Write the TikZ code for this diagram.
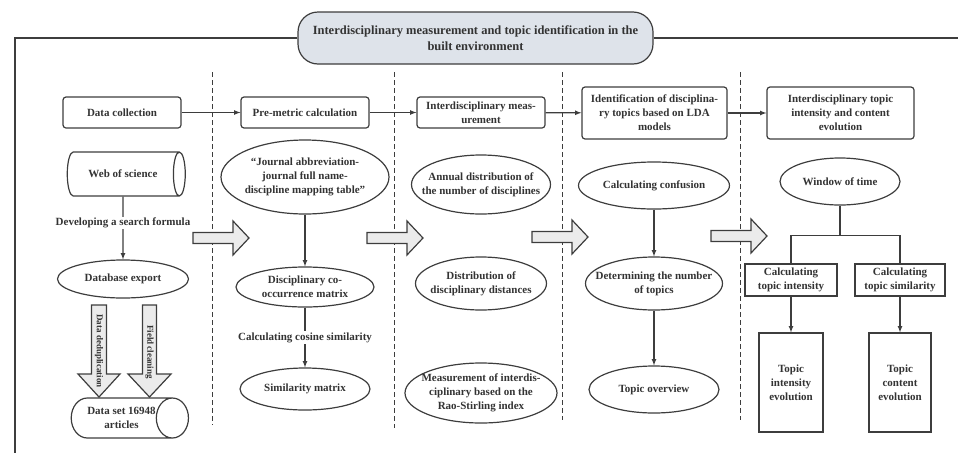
\documentclass[tikz,border=0pt]{standalone}
\usepackage{fontspec}
\setmainfont{Liberation Serif}
\usepackage{xcolor}
\usepackage{tikz}
\usetikzlibrary{shapes.geometric,arrows,positioning}
\definecolor{linegray}{HTML}{3D3D3D}
\definecolor{textgray}{HTML}{333333}
\definecolor{titlefill}{HTML}{DEE3EA}
\definecolor{arrowfill}{HTML}{EBEBEB}

\begin{document}
\begin{tikzpicture}[x=1pt,y=-1pt,line width=1.2pt,color=linegray,text=textgray,
	font=\bfseries\fontsize{11}{14}\selectfont,
	stage/.style={draw,rounded corners=3pt,align=center,inner sep=0pt},
	oval/.style={ellipse,draw,align=center,inner xsep=-12pt,inner ysep=0pt},
	drum/.style={cylinder,draw,align=center,inner sep=0pt,shape aspect=1.5},
	plainbox/.style={draw,align=center,inner sep=0pt},
	flow/.style={-latex},
	sep/.style={line width=1pt,dash pattern=on 5pt off 3pt},
	bigarrow/.style={draw,fill=arrowfill,line join=miter},
	fatarrow/.pic={\draw[bigarrow] (0,-5.5) -- (40,-5.5) -- (40,-17) -- (56,0) -- (40,17) -- (40,5.5) -- (0,5.5) -- cycle;}]
	\useasboundingbox (0,0) rectangle (958,453);
	% title and frame
	\node[draw,fill=titlefill,rounded corners=20pt,minimum width=355,minimum height=52,align=center,font=\bfseries\fontsize{12.5}{16}\selectfont] (title) at (475.5,38) {Interdisciplinary measurement and topic identification in the\\built environment};
	\draw (title.west) -| (15,453);
	\draw (title.east) -- (958,38);
	% stages
	\node[stage,minimum width=118,minimum height=31] (collect) at (122,112.5) {Data collection};
	\node[stage,minimum width=128,minimum height=31] (premetric) at (305,112.5) {Pre-metric calculation};
	\node[stage,minimum width=128,minimum height=31] (measure) at (481,112.5) {Interdisciplinary meas-\\urement};
	\node[stage,minimum width=145,minimum height=52] (lda) at (654.5,113) {Identification of disciplina-\\ry topics based on LDA\\models};
	\node[stage,minimum width=147,minimum height=52] (evol) at (840.5,113) {Interdisciplinary topic\\intensity and content\\evolution};
	\draw[flow] (collect) -- (premetric);
	\draw[flow] (premetric) -- (measure);
	\draw[flow] (measure) -- (lda);
	\draw[flow] (lda) -- (evol);
	\foreach \x/\bot in {212/425, 394/428, 562/420, 740/420}
		\draw[sep] (\x,72) -- (\x,\bot);
	% data collection
	\node[drum,minimum width=44,minimum height=118] (wos) at (123,174) {Web of science};
	\node[oval,minimum width=131,minimum height=38] (export) at (123,279) {Database export};
	\draw[flow] (wos) -- node[pos=0.42,fill=white,inner sep=1pt]{Developing a search formula} (export);
	\draw[bigarrow] (91.5,305) -- (106.5,305) -- (106.5,374) -- (120,374) -- (99,397) -- (78,374) -- (91.5,374) -- cycle;
	\draw[bigarrow] (142.5,305) -- (156.5,305) -- (156.5,374) -- (171,374) -- (149.5,397) -- (128,374) -- (142.5,374) -- cycle;
	\node[rotate=-90,font=\bfseries\fontsize{9}{11}\selectfont] (dedup) at (99,351) {Data deduplication};
	\node[rotate=-90,font=\bfseries\fontsize{9}{11}\selectfont] (clean) at (149.5,352) {Field cleaning};
	\node[drum,minimum width=40,minimum height=117] (dataset) at (121.5,418) {Data set 16948\\articles};
	% pre-metric
	\node[oval,minimum width=168,minimum height=74] (journal) at (305,177) {``Journal abbreviation-\\journal full name-\\discipline mapping table''};
	\node[oval,minimum width=138,minimum height=40] (cooc) at (305,287) {Disciplinary co-\\occurrence matrix};
	\node[oval,minimum width=130,minimum height=42] (simmat) at (305,389) {Similarity matrix};
	\draw[flow] (journal) -- (cooc);
	\draw[flow] (cooc) -- node[fill=white,inner sep=1pt]{Calculating cosine similarity} (simmat);
	% measurement
	\node[oval,minimum width=139,minimum height=59] (annual) at (481,184.5) {Annual distribution of\\the number of disciplines};
	\node[oval,minimum width=131,minimum height=53] (distance) at (481,283.5) {Distribution of\\disciplinary distances};
	\node[oval,minimum width=152,minimum height=60] (rao) at (481,393) {Measurement of interdis-\\ciplinary based on the\\Rao-Stirling index};
	% LDA
	\node[oval,minimum width=151,minimum height=47] (confuse) at (654,185.5) {Calculating confusion};
	\node[oval,minimum width=137,minimum height=53] (number) at (654,283.5) {Determining the number\\of topics};
	\node[oval,minimum width=130,minimum height=47] (overview) at (654,389.5) {Topic overview};
	\draw[flow] (confuse) -- (number);
	\draw[flow] (number) -- (overview);
	% evolution
	\node[oval,minimum width=120,minimum height=47] (window) at (840,181.5) {Window of time};
	\node[plainbox,minimum width=92,minimum height=32] (intens) at (791,280) {Calculating\\topic intensity};
	\node[plainbox,minimum width=90,minimum height=32] (simil) at (900,280) {Calculating\\topic similarity};
	\node[plainbox,minimum width=64,minimum height=99] (ievol) at (791,382.5) {Topic\\intensity\\evolution};
	\node[plainbox,minimum width=62,minimum height=99] (cevol) at (900,382.5) {Topic\\content\\evolution};
	\draw (window.south) -- ++(0,30) coordinate (split);
	\draw (split) -| (intens.north);
	\draw (split) -| (simil.north);
	\draw[flow] (intens) -- (ievol);
	\draw[flow] (simil) -- (cevol);
	% block arrows between stages
	\foreach \x/\y in {193/238, 367/238, 532/237, 711/236}
		\pic at (\x,\y) {fatarrow};
\end{tikzpicture}
\end{document}
